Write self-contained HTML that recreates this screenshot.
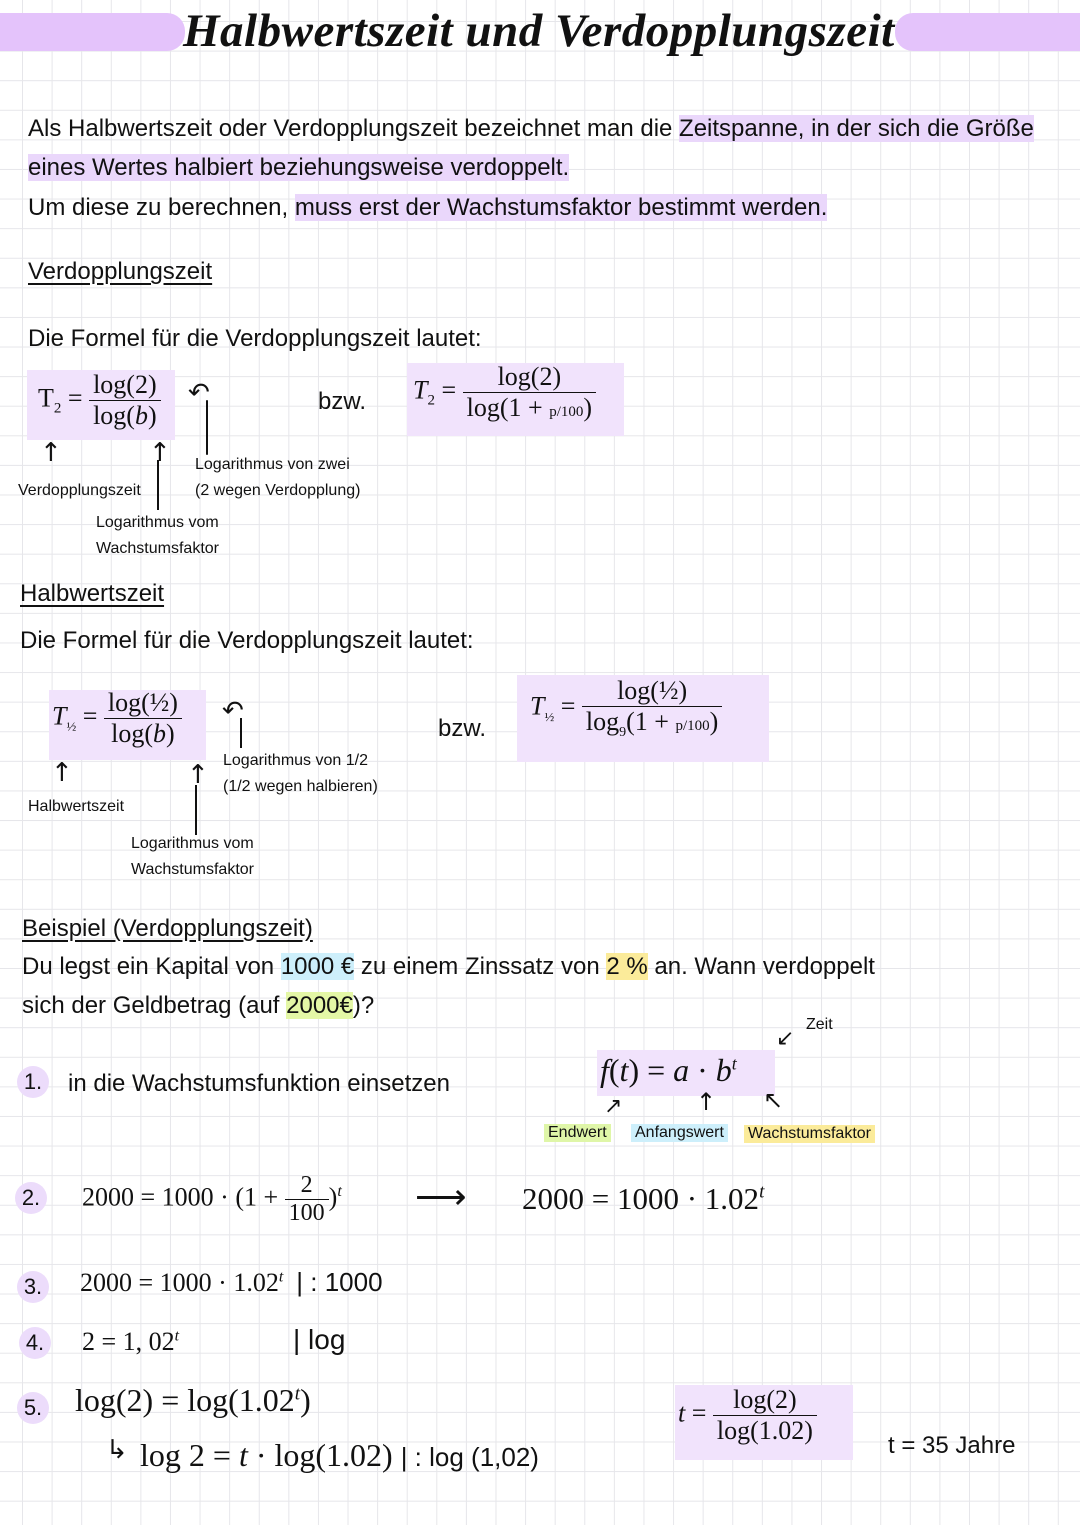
<!DOCTYPE html>
<html><head><meta charset="utf-8"><style>
body{margin:0;width:1080px;height:1525px;position:relative;overflow:hidden;background:#fff;
background-image:linear-gradient(#e6e6ea 1px,transparent 1px),linear-gradient(90deg,#e6e6ea 1px,transparent 1px);
background-size:29.6px 29.6px;background-position:22px 21px;font-family:"Liberation Sans",sans-serif;color:#111}
.a{position:absolute;white-space:nowrap}
.h{font-size:24px}
.hl{background:#ead7fb}
.m{font-family:"Liberation Serif",serif;font-size:26px}
.box{position:absolute;background:#f1e3fc}
.fr{display:inline-block;vertical-align:middle;text-align:center}
.fr span{display:block;padding:0 4px}
.fr .n{border-bottom:1.5px solid #111}
.s{font-size:16px}
.u{text-decoration:underline;text-underline-offset:4px}
.ar{font-size:26px;font-family:"DejaVu Sans",sans-serif}
.c{position:absolute;width:32px;height:32px;border-radius:50%;background:#ecdcfb;font-size:22px;text-align:center;line-height:32px}
</style></head><body>
<div class="box" style="left:0;top:13px;width:185px;height:38px;background:#e4c3fb;border-radius:0 18px 18px 0"></div>
<div class="box" style="left:895px;top:13px;width:185px;height:38px;background:#e4c3fb;border-radius:18px 0 0 18px"></div>
<div class="a" style="left:183px;top:4px;font-size:47px;font-weight:bold;font-style:italic;font-family:'Liberation Serif',serif;letter-spacing:0.5px">Halbwertszeit und Verdopplungszeit</div>

<div class="a h" style="left:28px;top:115px">Als Halbwertszeit oder Verdopplungszeit bezeichnet man die <span class="hl">Zeitspanne, in der sich die Größe</span></div>
<div class="a h" style="left:28px;top:154px"><span class="hl">eines Wertes halbiert beziehungsweise verdoppelt.</span></div>
<div class="a h" style="left:28px;top:194px">Um diese zu berechnen, <span class="hl">muss erst der Wachstumsfaktor bestimmt werden.</span></div>

<div class="a h u" style="left:28px;top:258px">Verdopplungszeit</div>
<div class="a h" style="left:28px;top:325px">Die Formel für die Verdopplungszeit lautet:</div>
<div class="box" style="left:27px;top:370px;width:148px;height:70px"></div>
<div class="a m" style="left:38px;top:370px">T<sub style="font-size:15px">2</sub> = <div class="fr"><span class="n">log(2)</span><span>log(<i>b</i>)</span></div></div>
<div class="a h" style="left:318px;top:388px">bzw.</div>
<div class="box" style="left:407px;top:363px;width:217px;height:73px"></div>
<div class="a m" style="left:413px;top:362px"><i>T</i><sub style="font-size:15px">2</sub> = <div class="fr"><span class="n">log(2)</span><span>log(1 + <small style="font-size:15px">p/100</small>)</span></div></div>
<div class="a ar" style="left:40px;top:438px">↑</div>
<div class="a s" style="left:18px;top:482px">Verdopplungszeit</div>
<div class="a ar" style="left:149px;top:438px">↑</div>
<div class="box" style="left:157px;top:460px;width:2px;height:50px;background:#111"></div>
<div class="a s" style="left:96px;top:514px">Logarithmus vom</div>
<div class="a s" style="left:96px;top:540px">Wachstumsfaktor</div>
<div class="a s" style="left:195px;top:456px">Logarithmus von zwei</div>
<div class="a s" style="left:195px;top:482px">(2 wegen Verdopplung)</div>
<div class="a ar" style="left:188px;top:378px">↶</div>
<div class="box" style="left:206px;top:400px;width:2px;height:55px;background:#111;border-radius:2px"></div>

<div class="a h u" style="left:20px;top:580px">Halbwertszeit</div>
<div class="a h" style="left:20px;top:627px">Die Formel für die Verdopplungszeit lautet:</div>
<div class="box" style="left:49px;top:690px;width:157px;height:70px"></div>
<div class="a m" style="left:52px;top:688px"><i>T</i><sub style="font-size:13px">½</sub> = <div class="fr"><span class="n">log(½)</span><span>log(<i>b</i>)</span></div></div>
<div class="a h" style="left:438px;top:715px">bzw.</div>
<div class="box" style="left:517px;top:675px;width:252px;height:87px"></div>
<div class="a m" style="left:530px;top:676px"><i>T</i><sub style="font-size:13px">½</sub> = <div class="fr"><span class="n">log(½)</span><span>log<sub style="font-size:14px">9</sub>(1 + <small style="font-size:15px">p/100</small>)</span></div></div>
<div class="a ar" style="left:222px;top:696px">↶</div>
<div class="box" style="left:240px;top:718px;width:2px;height:30px;background:#111"></div>
<div class="a s" style="left:223px;top:752px">Logarithmus von 1/2</div>
<div class="a s" style="left:223px;top:778px">(1/2 wegen halbieren)</div>
<div class="a ar" style="left:51px;top:758px">↑</div>
<div class="a s" style="left:28px;top:798px">Halbwertszeit</div>
<div class="a ar" style="left:187px;top:760px">↑</div>
<div class="box" style="left:195px;top:785px;width:2px;height:50px;background:#111"></div>
<div class="a s" style="left:131px;top:835px">Logarithmus vom</div>
<div class="a s" style="left:131px;top:861px">Wachstumsfaktor</div>

<div class="a h u" style="left:22px;top:915px">Beispiel (Verdopplungszeit)</div>
<div class="a h" style="left:22px;top:953px">Du legst ein Kapital von <span style="background:#cdeffb">1000 €</span> zu einem Zinssatz von <span style="background:#fbeb9a">2 %</span> an. Wann verdoppelt</div>
<div class="a h" style="left:22px;top:992px">sich der Geldbetrag (auf <span style="background:#e4f7a6">2000€</span>)?</div>

<div class="c" style="left:17px;top:1066px">1.</div>
<div class="a h" style="left:68px;top:1070px">in die Wachstumsfunktion einsetzen</div>
<div class="box" style="left:597px;top:1050px;width:178px;height:46px"></div>
<div class="a m" style="left:600px;top:1052px;font-size:32px"><i>f</i>(<i>t</i>) = <i>a</i> · <i>b<sup style="font-size:18px">t</sup></i></div>
<div class="a s" style="left:806px;top:1016px">Zeit</div>
<div class="a ar" style="left:776px;top:1026px;font-size:22px">↙</div>
<div class="a s" style="left:544px;top:1124px;background:#dff6a8;padding:0 4px">Endwert</div>
<div class="a s" style="left:631px;top:1124px;background:#cdeffb;padding:0 4px">Anfangswert</div>
<div class="a s" style="left:744px;top:1125px;background:#fbeb9a;padding:0 4px">Wachstumsfaktor</div>
<div class="a ar" style="left:604px;top:1094px;font-size:22px">↗</div>
<div class="a ar" style="left:696px;top:1088px;font-size:24px">↑</div>
<div class="a ar" style="left:763px;top:1086px;font-size:24px">↖</div>

<div class="c" style="left:15px;top:1182px">2.</div>
<div class="a m" style="left:82px;top:1172px">2000 = 1000 · (1 + <div class="fr" style="font-size:24px"><span class="n">2</span><span>100</span></div>)<sup style="font-size:16px"><i>t</i></sup></div>
<div class="a" style="left:415px;top:1176px;font-size:36px">⟶</div>
<div class="a m" style="left:522px;top:1181px;font-size:31px">2000 = 1000 · 1.02<sup style="font-size:19px"><i>t</i></sup></div>

<div class="c" style="left:17px;top:1271px">3.</div>
<div class="a m" style="left:80px;top:1267px">2000 = 1000 · 1.02<sup style="font-size:16px"><i>t</i></sup> &nbsp;<span style="font-family:'Liberation Sans';font-size:26px">| : 1000</span></div>
<div class="c" style="left:19px;top:1327px">4.</div>
<div class="a m" style="left:82px;top:1327px">2 = 1, 02<sup style="font-size:16px"><i>t</i></sup></div>
<div class="a h" style="left:293px;top:1324px;font-size:28px">| log</div>
<div class="c" style="left:17px;top:1392px">5.</div>
<div class="a m" style="left:75px;top:1382px;font-size:32px">log(2) = log(1.02<sup style="font-size:19px"><i>t</i></sup>)</div>
<div class="a ar" style="left:106px;top:1435px">↳</div>
<div class="a m" style="left:140px;top:1437px;font-size:32px">log 2 = <i>t</i> · log(1.02) <span style="font-family:'Liberation Sans';font-size:26px">| : log (1,02)</span></div>
<div class="box" style="left:675px;top:1385px;width:178px;height:75px"></div>
<div class="a m" style="left:678px;top:1385px"><i>t</i> = <div class="fr"><span class="n">log(2)</span><span>log(1.02)</span></div></div>
<div class="a h" style="left:888px;top:1432px">t = 35 Jahre</div>
</body></html>
